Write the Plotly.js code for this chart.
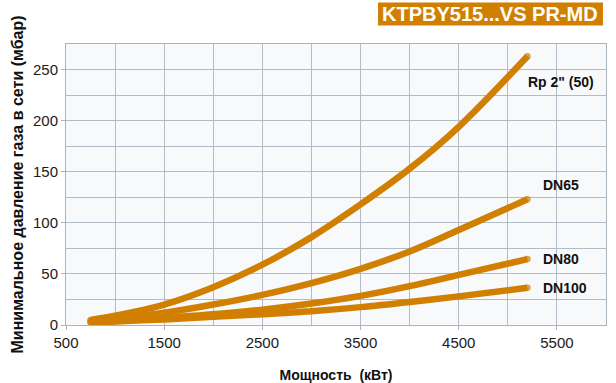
<!DOCTYPE html>
<html>
<head>
<meta charset="utf-8">
<script src="https://cdn.plot.ly/plotly-3.0.1.min.js"></script>
<style>html,body{margin:0;padding:0;background:#fff;}#chart{width:616px;height:383px;}</style>
</head>
<body>
<div id="chart"></div>
<script>
const power = [750, 1000, 1500, 2000, 2500, 3000, 3500, 4000, 4500, 5200];
const rp2   = [5, 9, 20, 37, 59, 86, 118, 153, 194, 263];
const dn65  = [4, 6.5, 12, 20, 29.5, 41, 55, 72, 93, 123];
const dn80  = [3, 4, 7, 10.5, 15, 21, 28.5, 38, 49, 64.5];
const dn100 = [2.5, 3.5, 5.5, 8, 10.5, 13.5, 17.5, 22.5, 28, 36.5];
const seriesNames = ['Rp 2" (50)', 'DN65', 'DN80', 'DN100'];
const seriesValues = [rp2, dn65, dn80, dn100];
const labelY = [238, 137, 64.5, 36.2];
const chartTitle = 'KTPBY515...VS PR-MD';

const orange = '#d07f00';
const endSizes = power.map((p, i) => (i === 0 || i === power.length - 1) ? 6.5 : 0);

const traces = seriesValues.map((vals, i) => ({
  x: power, y: vals, name: seriesNames[i], type: 'scatter', mode: 'lines+markers',
  line: {color: orange, width: 6.5, shape: 'spline', smoothing: 1},
  marker: {color: orange, size: endSizes, line: {width: 0}},
  hoverinfo: 'x+y', showlegend: false
}));

const annotations = seriesNames.map((n, i) => ({
  x: i === 0 ? 5190 : 5337, y: labelY[i], xref: 'x', yref: 'y', text: '<b>' + n + '</b>',
  showarrow: false, xanchor: 'left', yanchor: 'middle',
  font: {family: 'Liberation Sans, Arial, sans-serif', size: 14, color: '#111'}
}));
annotations.push({
  x: 0.786, y: 1.1066, xref: 'paper', yref: 'paper', text: '<b>' + chartTitle + '</b>',
  showarrow: false, xanchor: 'center', yanchor: 'middle',
  font: {family: 'Liberation Sans, Arial, sans-serif', size: 20, color: '#ffffff'}
});

const layout = {
  width: 616, height: 383,
  margin: {l: 66, r: 10, t: 43.5, b: 58},
  paper_bgcolor: '#ffffff', plot_bgcolor: '#f7f9fb',
  font: {family: 'Liberation Sans, Arial, sans-serif', color: '#1a1a1a'},
  xaxis: {
    range: [500, 6000], dtick: 1000, tick0: 500, showgrid: true, gridcolor: '#b1bcc6', gridwidth: 1,
    minor: {dtick: 500, showgrid: true, gridcolor: '#b1bcc6', gridwidth: 1},
    ticks: 'outside', ticklen: 4, tickcolor: '#a9b4bd',
    showline: true, linecolor: '#a9b4bd', mirror: true, zeroline: false,
    tickfont: {size: 15, color: '#1a1a1a'},
    title: {text: '<b>Мощность  (кВт)</b>', font: {size: 14, color: '#111'}, standoff: 20},
    automargin: false, fixedrange: true
  },
  yaxis: {
    range: [0, 275], dtick: 50, tick0: 0, showgrid: true, gridcolor: '#b1bcc6', gridwidth: 1,
    minor: {dtick: 25, showgrid: true, gridcolor: '#b1bcc6', gridwidth: 1},
    ticks: 'outside', ticklen: 4, tickcolor: '#a9b4bd',
    showline: true, linecolor: '#a9b4bd', mirror: true, zeroline: false,
    tickfont: {size: 15, color: '#1a1a1a'},
    title: {text: '<b>Минимальное давление газа в сети (мбар)</b>', font: {size: 16, color: '#111'}, standoff: 5},
    automargin: false, fixedrange: true
  },
  shapes: [{
    type: 'rect', xref: 'paper', yref: 'paper', x0: 0.5778, x1: 0.9944, y0: 1.0657, y1: 1.1474,
    fillcolor: orange, line: {width: 0}, layer: 'above'
  }],
  annotations: annotations
};

Plotly.newPlot('chart', traces, layout, {displayModeBar: false, staticPlot: true});
</script>
</body>
</html>
